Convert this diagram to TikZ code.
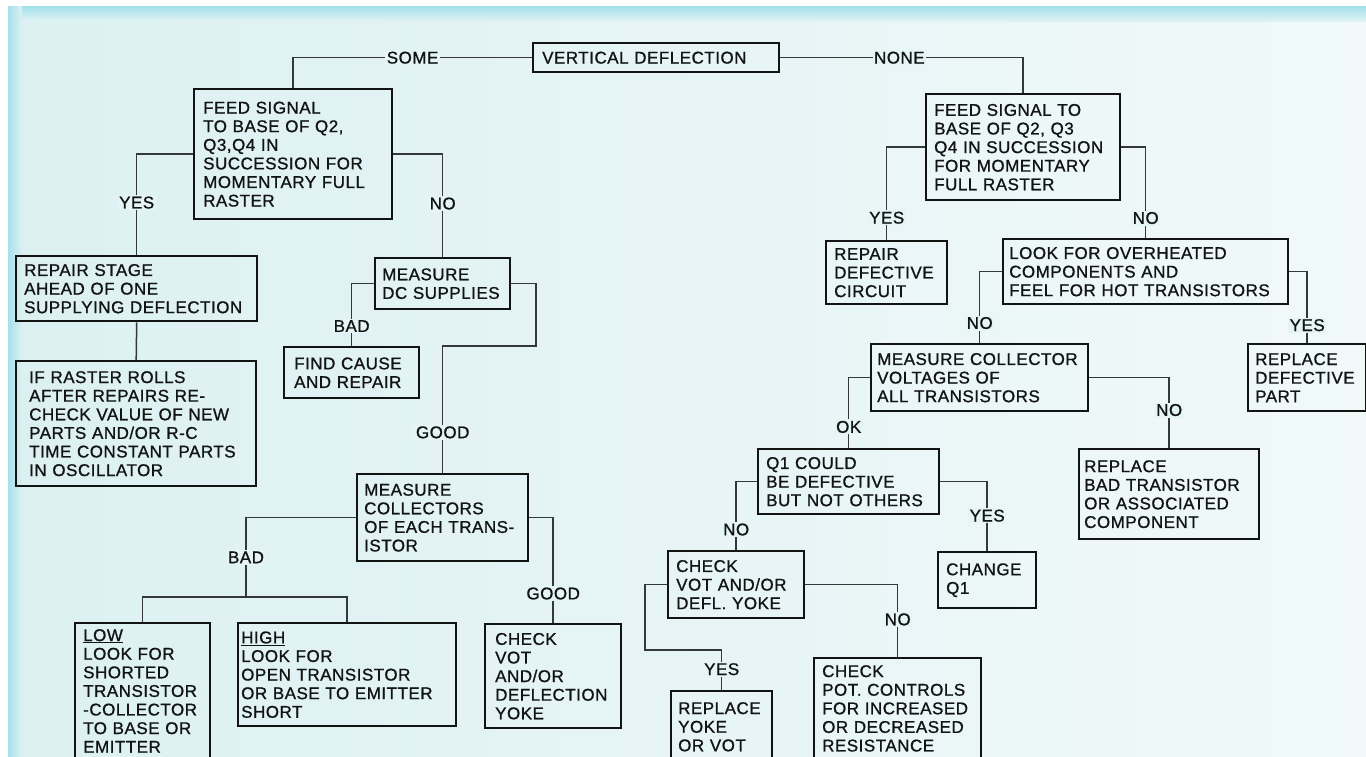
\documentclass[tikz,border=0pt]{standalone}
\usepackage{fontspec}
\setmainfont{Liberation Sans}[LetterSpace=3,FakeBold=1]
\usepackage{xcolor}
\definecolor{FlowInk}{HTML}{121414}
\definecolor{FlowLine}{HTML}{343838}
\definecolor{FlowPaper}{HTML}{DCF0F2}
\definecolor{FlowPale}{HTML}{F1F9F9}
\definecolor{FlowCyan}{HTML}{A6E1E9}

\begin{document}
\begin{tikzpicture}[x=1pt,y=-1pt,
  qbox/.style={draw=FlowInk,line width=2.4pt,anchor=north west,align=left,
    inner ysep=3pt,text=FlowInk,font=\fontsize{17}{18.6}\selectfont},
  dims/.style n args={3}{minimum width=#1pt,minimum height=#2pt,inner xsep=#3pt,
    text width=#1pt-#3pt*2},
  link/.style={draw=FlowLine,line width=1.5pt},
  lbl/.style={fill=FlowPaper!55!FlowPale,inner sep=1.5pt,text=FlowInk,
    font=\fontsize{17}{18.6}\selectfont}]
  \useasboundingbox (0,0) rectangle (1366,757);
  \clip (0,0) rectangle (1366,757);
  % paper
  \fill[white] (0,0) rectangle (1366,757);
  \shade[left color=FlowPaper,right color=FlowPale] (8,7) rectangle (1366,757);
  \shade[top color=FlowCyan,bottom color=FlowPaper!60!FlowPale] (8,7) rectangle (1366,22);
  \shade[left color=FlowCyan,right color=FlowPaper] (8,7) rectangle (22,757);

  % boxes
  \node[qbox,dims={246}{29}{9}] (vd) at (532,42) {VERTICAL DEFLECTION};
  \node[qbox,dims={198}{130}{9}] (feedL) at (193,88)
    {FEED SIGNAL\\TO BASE OF Q2,\\Q3,Q4 IN\\SUCCESSION FOR\\MOMENTARY FULL\\RASTER};
  \node[qbox,dims={194}{106}{8}] (feedR) at (925,93)
    {FEED SIGNAL TO\\BASE OF Q2, Q3\\Q4 IN SUCCESSION\\FOR MOMENTARY\\FULL RASTER};
  \node[qbox,dims={241}{65}{8}] (repStage) at (15,255)
    {REPAIR STAGE\\AHEAD OF ONE\\SUPPLYING DEFLECTION};
  \node[qbox,dims={240}{125}{13}] (ifRaster) at (15,360)
    {IF RASTER ROLLS\\AFTER REPAIRS RE-\\CHECK VALUE OF NEW\\PARTS AND/OR R-C\\TIME CONSTANT PARTS\\IN OSCILLATOR};
  \node[qbox,dims={135}{51}{7}] (measDC) at (374,257) {MEASURE\\DC SUPPLIES};
  \node[qbox,dims={135}{51}{10}] (findCause) at (283,346) {FIND CAUSE\\AND REPAIR};
  \node[qbox,dims={171}{87}{7}] (measColl) at (356,473)
    {MEASURE\\COLLECTORS\\OF EACH TRANS-\\ISTOR};
  \node[qbox,dims={135}{0}{8},inner ysep=6pt] (low) at (74,622)
    {\underline{LOW}\\LOOK FOR\\SHORTED\\TRANSISTOR\\-COLLECTOR\\TO BASE OR\\EMITTER\\[24pt]\mbox{}};
  \node[qbox,dims={218}{103}{3}] (high) at (237,622)
    {\underline{HIGH}\\LOOK FOR\\OPEN TRANSISTOR\\OR BASE TO EMITTER\\SHORT};
  \node[qbox,dims={136}{104}{10}] (chkVot) at (484,623)
    {CHECK\\VOT\\AND/OR\\DEFLECTION\\YOKE};
  \node[qbox,dims={121}{63}{8}] (repDef) at (825,240) {REPAIR\\DEFECTIVE\\CIRCUIT};
  \node[qbox,dims={285}{65}{6}] (lookFor) at (1002,238)
    {LOOK FOR OVERHEATED\\COMPONENTS AND\\FEEL FOR HOT TRANSISTORS};
  \node[qbox,dims={217}{67}{6}] (measVolt) at (870,343)
    {MEASURE COLLECTOR\\VOLTAGES OF\\ALL TRANSISTORS};
  \node[qbox,dims={118}{67}{7}] (repPart) at (1247,343) {REPLACE\\DEFECTIVE\\PART};
  \node[qbox,dims={180}{90}{5}] (repBad) at (1078,448)
    {REPLACE\\BAD TRANSISTOR\\OR ASSOCIATED\\COMPONENT};
  \node[qbox,dims={181}{65}{8}] (q1) at (757,448) {Q1 COULD\\BE DEFECTIVE\\BUT NOT OTHERS};
  \node[qbox,dims={98}{56}{8}] (chgQ1) at (937,551) {CHANGE\\Q1};
  \node[qbox,dims={136}{67}{8}] (chk2) at (667,550) {CHECK\\VOT AND/OR\\DEFL. YOKE};
  \node[qbox,dims={101}{0}{7},inner ysep=11pt] (repYoke) at (670,690)
    {REPLACE\\YOKE\\OR VOT\\[24pt]\mbox{}};
  \node[qbox,dims={167}{0}{8},inner ysep=7pt] (chkPot) at (813,657)
    {CHECK\\POT. CONTROLS\\FOR INCREASED\\OR DECREASED\\RESISTANCE\\[24pt]\mbox{}};

  % branch points
  \coordinate (dcTurn) at (536,346);
  \coordinate (collJoin) at (246,597);
  \coordinate (yokeTurn) at (645,650);

  % connectors
  \draw[link] (vd.west) -| (feedL.north) node[lbl,pos=.25] {SOME};
  \draw[link] (vd.east) -| (feedR.north) node[lbl,pos=.245] {NONE};
  \draw[link] (feedL.west) -| (repStage.north) node[lbl,pos=.74] {YES};
  \draw[link] (feedL.east) -| (measDC.north) node[lbl,pos=.74] {NO};
  \draw[link] (repStage.south) -- (ifRaster.north);
  \draw[link] (measDC.west) -| (findCause.north) node[lbl,pos=.84] {BAD};
  \draw[link] (measDC.east) -| (dcTurn) -| (measColl.north) node[lbl,pos=.84] {GOOD};
  \draw[link] (measColl.west) -| (collJoin) node[lbl,pos=.75] {BAD};
  \draw[link] (low.north) |- (collJoin) -| (high.north);
  \draw[link] (measColl.east) -| (chkVot.north) node[lbl,pos=.86] {GOOD};
  \draw[link] (feedR.west) -| (repDef.north) node[lbl,pos=.88] {YES};
  \draw[link] (feedR.east) -| (lookFor.north) node[lbl,pos=.89] {NO};
  \draw[link] (lookFor.west) -| (measVolt.north) node[lbl,pos=.86] {NO};
  \draw[link] (lookFor.east) -| (repPart.north) node[lbl,pos=.875] {YES};
  \draw[link] (measVolt.west) -| (q1.north) node[lbl,pos=.85] {OK};
  \draw[link] (measVolt.east) -| (repBad.north) node[lbl,pos=.73] {NO};
  \draw[link] (q1.west) -| (chk2.north) node[lbl,pos=.85] {NO};
  \draw[link] (q1.east) -| (chgQ1.north) node[lbl,pos=.745] {YES};
  \draw[link] (chk2.west) -| (yokeTurn) -| (repYoke.north) node[lbl,pos=.74] {YES};
  \draw[link] (chk2.east) -| (chkPot.north) node[lbl,pos=.74] {NO};
\end{tikzpicture}
\end{document}
